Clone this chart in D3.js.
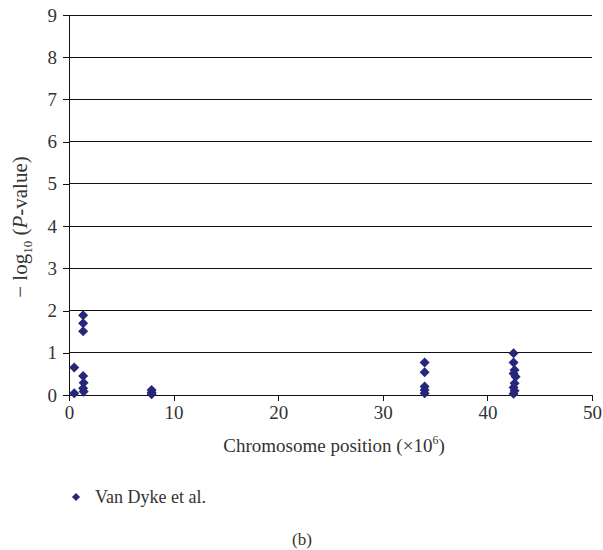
<!DOCTYPE html>
<html>
  <head>
    <meta charset="utf-8">
    <title>Van Dyke scatter</title>
    <script src="https://d3js.org/d3.v7.min.js" charset="utf-8"></script>
    <style>
      body { margin: 0; background: #fff; }
      svg text { font-family: "Liberation Serif", "Times New Roman", serif; fill: #333; }
    </style>
  </head>
  <body>
    <script>
      // chromosome position (x10^6) and -log10(P)
      var positions = [0.5, 0.5, 1.35, 1.35, 1.35, 1.35, 1.4, 1.35, 1.4,
                       7.9, 7.9, 7.9,
                       34.0, 34.0, 34.0, 34.0, 34.0,
                       42.5, 42.5, 42.6, 42.5, 42.7, 42.6, 42.5, 42.6, 42.5];
      var pvals = [0.04, 0.65, 1.89, 1.70, 1.51, 0.45, 0.29, 0.16, 0.08,
                   0.12, 0.06, 0.02,
                   0.77, 0.54, 0.20, 0.12, 0.04,
                   0.99, 0.77, 0.59, 0.51, 0.43, 0.28, 0.18, 0.10, 0.03];
      var xTicks = [0, 10, 20, 30, 40, 50];
      var yTicks = [0, 1, 2, 3, 4, 5, 6, 7, 8, 9];
      var seriesName = "Van Dyke et al.";

      var width = 603;
      var height = 550;
      var margin = {left: 69, right: 11, top: 15, bottom: 155};
      var navy = "#26267a";
      var serif = '"Liberation Serif", "Times New Roman", serif';

      var svg = d3.select("body")
          .append("svg")
          .attr("width", width)
          .attr("height", height);

      var x = d3.scaleLinear().domain([0, 50]).range([margin.left, width - margin.right]);
      var y = d3.scaleLinear().domain([0, 9]).range([height - margin.bottom, margin.top]);

      // gridlines
      svg.append("g")
        .selectAll("line")
        .data(yTicks.filter(function(d) { return d > 0; }))
        .enter()
        .append("line")
        .attr("x1", x(0))
        .attr("x2", x(50))
        .attr("y1", function(d) { return y(d); })
        .attr("y2", function(d) { return y(d); })
        .attr("stroke", "#111")
        .attr("stroke-width", 1)
        .attr("shape-rendering", "crispEdges");

      var xAxis = svg.append("g")
        .attr("transform", "translate(0," + y(0) + ")")
        .call(d3.axisBottom(x).tickValues(xTicks).tickSize(6).tickPadding(5));

      var yAxis = svg.append("g")
        .attr("transform", "translate(" + x(0) + ",0)")
        .call(d3.axisLeft(y).tickValues(yTicks).tickSize(6).tickPadding(6));

      [xAxis, yAxis].forEach(function(a) {
        a.attr("font-family", null).attr("font-size", null);
        a.selectAll("path, line").attr("stroke", "#111").attr("shape-rendering", "crispEdges");
        a.selectAll("text").style("font-size", "19px").style("fill", "#333")
          .style("font-family", serif);
      });

      var diamond = d3.symbol().type(d3.symbolDiamond2).size(64);

      svg.append("g")
        .selectAll("path")
        .data(positions.map(function(p, i) { return [p, pvals[i]]; }))
        .enter()
        .append("path")
        .attr("d", diamond)
        .attr("transform", function(d) { return "translate(" + x(d[0]) + "," + y(d[1]) + ")"; })
        .attr("fill", navy);

      // axis titles
      var xt = svg.append("text")
        .attr("x", 334)
        .attr("y", 452)
        .attr("text-anchor", "middle")
        .style("font-size", "19px");
      xt.append("tspan").text("Chromosome position (\u00d710");
      xt.append("tspan").attr("dy", -8).style("font-size", "12px").text("6");
      xt.append("tspan").attr("dy", 8).text(")");

      var yt = svg.append("text")
        .attr("transform", "translate(27,227) rotate(-90)")
        .attr("text-anchor", "middle")
        .style("font-size", "21px");
      yt.append("tspan").text("\u2212 log");
      yt.append("tspan").attr("dy", 5).style("font-size", "13px").text("10");
      yt.append("tspan").attr("dy", -5).text(" (");
      yt.append("tspan").style("font-style", "italic").text("P");
      yt.append("tspan").text("-value)");

      // legend
      svg.append("path")
        .attr("d", d3.symbol().type(d3.symbolDiamond2).size(42))
        .attr("transform", "translate(76,497)")
        .attr("fill", navy);
      svg.append("text")
        .attr("x", 95)
        .attr("y", 503)
        .style("font-size", "18px")
        .text(seriesName);

      svg.append("text")
        .attr("x", 302)
        .attr("y", 545)
        .attr("text-anchor", "middle")
        .style("font-size", "17px")
        .text("(b)");
    </script>
  </body>
</html>
